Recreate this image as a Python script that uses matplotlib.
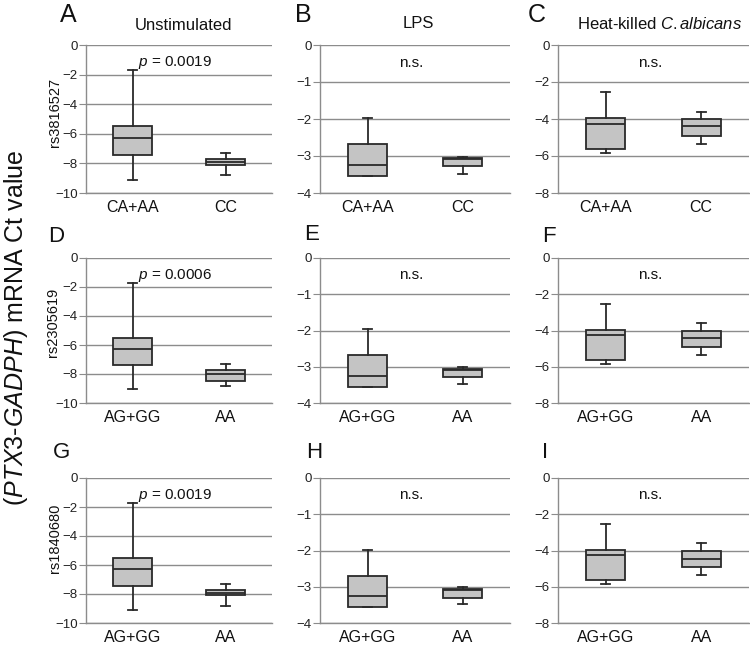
import matplotlib
matplotlib.use("Agg")
import matplotlib.pyplot as plt

plt.rcParams['font.family'] = ['Liberation Sans', 'DejaVu Sans']
plt.rcParams['mathtext.fontset'] = 'custom'
plt.rcParams['mathtext.rm'] = 'Liberation Sans'
plt.rcParams['mathtext.it'] = 'Liberation Sans:italic'

# data: (whislo, q1, med, q3, whishi) per group
col_titles = ["Unstimulated", "LPS", r"Heat-killed $\mathit{C.albicans}$"]
snps = ["rs3816527", "rs2305619", "rs1840680"]
groups = [["CA+AA", "CC"], ["AG+GG", "AA"], ["AG+GG", "AA"]]
letters = ["A", "B", "C", "D", "E", "F", "G", "H", "I"]
notes = [["$p$ = 0.0019", "n.s.", "n.s."],
         ["$p$ = 0.0006", "n.s.", "n.s."],
         ["$p$ = 0.0019", "n.s.", "n.s."]]

unstim = [
    [(-9.1, -7.45, -6.3, -5.5, -1.7), (-8.8, -8.1, -7.9, -7.7, -7.3)],
    [(-9.05, -7.35, -6.25, -5.5, -1.75), (-8.85, -8.45, -8.0, -7.75, -7.3)],
    [(-9.1, -7.45, -6.3, -5.5, -1.7), (-8.8, -8.1, -7.9, -7.7, -7.3)],
]
lps = [
    [(-3.55, -3.55, -3.25, -2.68, -1.98), (-3.48, -3.28, -3.08, -3.05, -3.02)],
    [(-3.57, -3.55, -3.25, -2.68, -1.97), (-3.48, -3.28, -3.08, -3.05, -3.02)],
    [(-3.57, -3.55, -3.25, -2.70, -1.98), (-3.48, -3.30, -3.08, -3.05, -3.02)],
]
candida = [
    [(-5.85, -5.6, -4.25, -3.95, -2.55), (-5.35, -4.9, -4.4, -4.0, -3.6)],
    [(-5.85, -5.6, -4.25, -3.95, -2.55), (-5.35, -4.9, -4.4, -4.0, -3.6)],
    [(-5.85, -5.6, -4.25, -3.95, -2.55), (-5.35, -4.9, -4.45, -4.0, -3.6)],
]
stim_data = [unstim, lps, candida]
y_ranges = [(-10, 0, 2), (-4, 0, 1), (-8, 0, 2)]

fig = plt.figure(figsize=(7.5, 6.46), dpi=100)
W, H = 750.0, 646.0

col_x = [(86, 272), (320, 510), (558, 749)]
row_y = [(45, 193), (258, 403), (478, 623)]

letter_pos = [[(68, 15), (303, 15), (537, 15)],
              [(56, 237), (312, 235), (549, 237)],
              [(62, 453), (314, 453), (545, 453)]]
letter_size = [18, 16, 16]

for r in range(3):
    for c in range(3):
        x0, x1 = col_x[c]
        y0, y1 = row_y[r]
        ax = fig.add_axes([x0 / W, 1 - y1 / H, (x1 - x0) / W, (y1 - y0) / H])
        lo, hi, step = y_ranges[c]
        stats = []
        for g, vals in zip(groups[r], stim_data[c][r]):
            wl, q1, med, q3, wh = vals
            stats.append(dict(label=g, whislo=wl, q1=q1, med=med, q3=q3,
                              whishi=wh, fliers=[]))
        ax.bxp(stats, positions=[1, 2], widths=0.41, capwidths=0.09,
               patch_artist=True, showfliers=False,
               boxprops=dict(facecolor='#c4c4c4', edgecolor='#2a2a2a', linewidth=1.3),
               medianprops=dict(color='#2a2a2a', linewidth=1.3),
               whiskerprops=dict(color='#2a2a2a', linewidth=1.3),
               capprops=dict(color='#2a2a2a', linewidth=1.3),
               zorder=3)
        ax.set_xlim(0.5, 2.5)
        ax.set_ylim(lo, hi)
        ax.set_yticks(range(lo, hi + 1, step))
        ax.yaxis.grid(True, color='#8c8c8c', linewidth=1.0, zorder=0)
        ax.set_axisbelow(True)
        for s in ['top', 'right']:
            ax.spines[s].set_visible(False)
        for s in ['left', 'bottom']:
            ax.spines[s].set_color('#8c8c8c')
            ax.spines[s].set_linewidth(1.0)
        ax.tick_params(axis='y', length=5, color='#8c8c8c', labelsize=9.5,
                       pad=1, labelcolor='#222222')
        ax.tick_params(axis='x', length=0, labelsize=11.5, pad=5,
                       labelcolor='#111111')
        ax.text(0.48, 0.88, notes[r][c], transform=ax.transAxes,
                ha='center', va='center', fontsize=11, color='#111111')
        lx, ly = letter_pos[r][c]
        fig.text(lx / W, 1 - ly / H, letters[3 * r + c], ha='center',
                 va='center', fontsize=letter_size[r], color='#111111')

# column titles
for c, (tx, ty) in enumerate([(183, 25), (418, 24), (660, 24)]):
    fig.text(tx / W, 1 - ty / H, col_titles[c], ha='center', va='center',
             fontsize=12, color='#111111')

# SNP labels
for r, (tx, ty) in enumerate([(55, 112), (53, 322), (55, 538)]):
    fig.text(tx / W, 1 - ty / H, snps[r], rotation=90, ha='center',
             va='center', fontsize=10.5, color='#111111')

fig.text(16 / W, 1 - 328 / H, r"($\mathit{PTX3}$-$\mathit{GADPH}$) mRNA Ct value",
         rotation=90, ha='center', va='center', fontsize=18, color='#111111')

fig.savefig("out.png", dpi=100)
